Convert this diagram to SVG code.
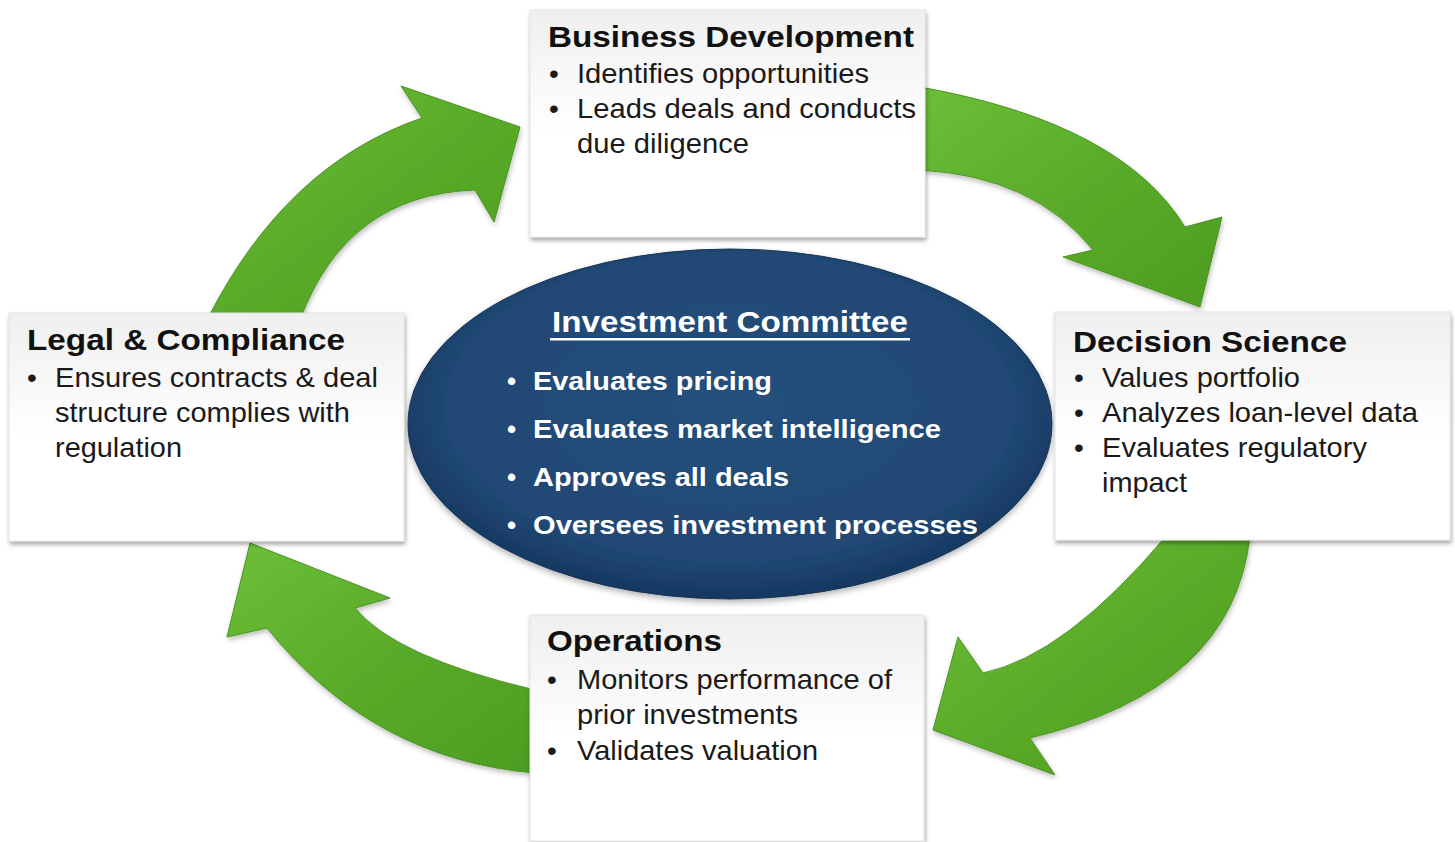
<svg xmlns="http://www.w3.org/2000/svg" width="1455" height="842" viewBox="0 0 1455 842">
<style>
.box{fill:url(#boxg);stroke:#e4e4e4;stroke-width:1;filter:url(#sh)}
.t{font-family:"Liberation Sans",Arial,sans-serif;font-weight:bold;font-size:30px;fill:#111}
.b{font-family:"Liberation Sans",Arial,sans-serif;font-size:28px;fill:#1a1a1a}
.w{font-family:"Liberation Sans",Arial,sans-serif;font-weight:bold;font-size:26px;fill:#ffffff}
.wt{font-family:"Liberation Sans",Arial,sans-serif;font-weight:bold;font-size:30px;fill:#ffffff}
.arr{fill:url(#gr);stroke:#4a9321;stroke-width:1;filter:url(#ash)}
</style>
<defs>
<linearGradient id="boxg" x1="0" y1="0" x2="0" y2="1">
<stop offset="0" stop-color="#efefef"/>
<stop offset="0.55" stop-color="#ffffff"/>
<stop offset="1" stop-color="#ffffff"/>
</linearGradient>
<linearGradient id="gr" x1="0" y1="0" x2="1" y2="1">
<stop offset="0" stop-color="#6cbf38"/>
<stop offset="0.5" stop-color="#5aab29"/>
<stop offset="1" stop-color="#4d9c22"/>
</linearGradient>
<radialGradient id="eg" cx="0.5" cy="0.45" r="0.55">
<stop offset="0" stop-color="#25507c"/>
<stop offset="0.8" stop-color="#204874"/>
<stop offset="1" stop-color="#163760"/>
</radialGradient>
<filter id="sh" x="-5%" y="-5%" width="112%" height="115%">
<feDropShadow dx="1" dy="3" stdDeviation="2" flood-color="#000" flood-opacity="0.35"/>
</filter>
<filter id="ash" x="-10%" y="-10%" width="125%" height="125%">
<feDropShadow dx="1" dy="3" stdDeviation="2.5" flood-color="#000" flood-opacity="0.25"/>
</filter>
<filter id="esh" x="-5%" y="-5%" width="110%" height="115%">
<feDropShadow dx="0" dy="3" stdDeviation="3" flood-color="#000" flood-opacity="0.3"/>
</filter>
</defs>
<rect width="1455" height="842" fill="#ffffff"/>

<g id="connectors">
<path class="arr" d="M207,320 Q285.5,164.5 422,118 L401,86 L520,127 L494,222 L475,190 Q346.5,194.5 300,320 Z"/>
<path class="arr" d="M920,87 Q1121.5,123 1185,227 L1222,217 L1200,307 L1063,257 L1093,250 Q1033.5,176 920,170 Z"/>
<path class="arr" d="M1250,535 Q1234,689.5 1030,738 L1055,775 L933,730 L958,637 L983,673 Q1065,656 1167,535 Z"/>
<path class="arr" d="M535,690 Q395,657 355,608 L390,598 L250,543 L227,637 L267,628 Q373,759.5 535,773 Z"/>
</g>

<g id="investment-committee">
<ellipse cx="730" cy="424" rx="322" ry="175" fill="url(#eg)" stroke="#153458" stroke-width="1" filter="url(#esh)"/>
<text class="wt" x="552" y="332" textLength="356" lengthAdjust="spacingAndGlyphs">Investment Committee</text>
<rect x="550" y="338" width="360" height="2.5" fill="#ffffff"/>
<text class="w" x="507" y="390">•</text>
<text class="w" x="533" y="390" textLength="239" lengthAdjust="spacingAndGlyphs">Evaluates pricing</text>
<text class="w" x="507" y="438">•</text>
<text class="w" x="533" y="438" textLength="408" lengthAdjust="spacingAndGlyphs">Evaluates market intelligence</text>
<text class="w" x="507" y="486">•</text>
<text class="w" x="533" y="486" textLength="256" lengthAdjust="spacingAndGlyphs">Approves all deals</text>
<text class="w" x="507" y="534">•</text>
<text class="w" x="533" y="534" textLength="445" lengthAdjust="spacingAndGlyphs">Oversees investment processes</text>
</g>

<g id="business-development">
<rect class="box" x="530" y="10" width="395" height="227"/>
<text class="t" x="548" y="47" textLength="366" lengthAdjust="spacingAndGlyphs">Business Development</text>
<text class="b" x="549" y="83">•</text>
<text class="b" x="577" y="83" textLength="292" lengthAdjust="spacingAndGlyphs">Identifies opportunities</text>
<text class="b" x="549" y="118">•</text>
<text class="b" x="577" y="118" textLength="339" lengthAdjust="spacingAndGlyphs">Leads deals and conducts</text>
<text class="b" x="577" y="153" textLength="172" lengthAdjust="spacingAndGlyphs">due diligence</text>
</g>

<g id="legal-compliance">
<rect class="box" x="9" y="313" width="395" height="228"/>
<text class="t" x="27" y="350" textLength="318" lengthAdjust="spacingAndGlyphs">Legal &amp; Compliance</text>
<text class="b" x="27" y="387">•</text>
<text class="b" x="55" y="387" textLength="323" lengthAdjust="spacingAndGlyphs">Ensures contracts &amp; deal</text>
<text class="b" x="55" y="422" textLength="295" lengthAdjust="spacingAndGlyphs">structure complies with</text>
<text class="b" x="55" y="457" textLength="127" lengthAdjust="spacingAndGlyphs">regulation</text>
</g>

<g id="decision-science">
<rect class="box" x="1055" y="312" width="395" height="228"/>
<text class="t" x="1073" y="352" textLength="274" lengthAdjust="spacingAndGlyphs">Decision Science</text>
<text class="b" x="1074" y="387">•</text>
<text class="b" x="1102" y="387" textLength="198" lengthAdjust="spacingAndGlyphs">Values portfolio</text>
<text class="b" x="1074" y="422">•</text>
<text class="b" x="1102" y="422" textLength="316" lengthAdjust="spacingAndGlyphs">Analyzes loan-level data</text>
<text class="b" x="1074" y="457">•</text>
<text class="b" x="1102" y="457" textLength="265" lengthAdjust="spacingAndGlyphs">Evaluates regulatory</text>
<text class="b" x="1102" y="492" textLength="85" lengthAdjust="spacingAndGlyphs">impact</text>
</g>

<g id="operations">
<rect class="box" x="530" y="615" width="394" height="226"/>
<text class="t" x="547" y="651" textLength="175" lengthAdjust="spacingAndGlyphs">Operations</text>
<text class="b" x="547" y="689">•</text>
<text class="b" x="577" y="689" textLength="315" lengthAdjust="spacingAndGlyphs">Monitors performance of</text>
<text class="b" x="577" y="724" textLength="221" lengthAdjust="spacingAndGlyphs">prior investments</text>
<text class="b" x="547" y="760">•</text>
<text class="b" x="577" y="760" textLength="241" lengthAdjust="spacingAndGlyphs">Validates valuation</text>
</g>
</svg>
